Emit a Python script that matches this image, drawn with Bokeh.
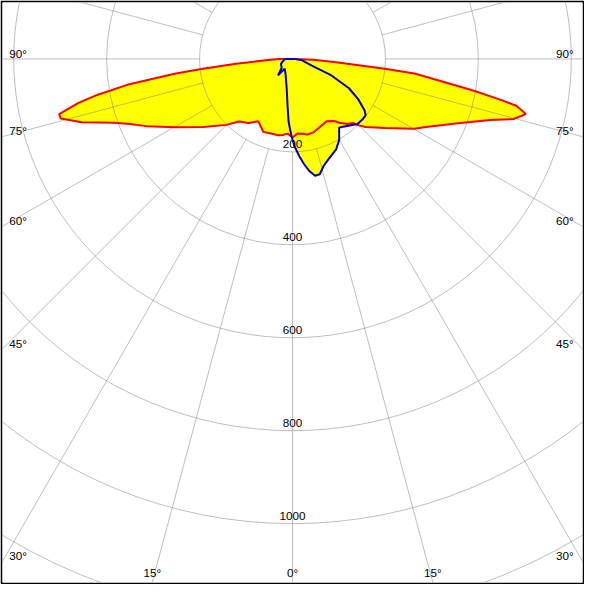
import numpy as np
from bokeh.plotting import figure
from bokeh.models import Range1d
from bokeh.embed import file_html
from bokeh.resources import INLINE
from bokeh.core.properties import value

# ---- data (angle in degrees, 0 = straight down, negative = left; intensity in cd) ----
red_angle = [-90, -87.7, -85.1, -83.8, -82.9, -81.1, -79.6, -78.4, -76.7, -75.6, -75.3,
             -73.3, -70.3, -68.2, -65.3, -59.7, -52.7, -45.1, -40.5, -34.4, -28.7,
             -21.8, -16.0, -10.8, -7.3, -3.7, 0, 3.7, 9.6, 10.9, 16.3, 25.7, 28.7,
             33.9, 36.2, 40.4, 43.3, 44.6, 47.0, 53.2, 60.2, 62.9, 68.8, 72.8, 74.8,
             76.7, 78.2, 78.9, 80.0, 81.5, 83.2, 84.0, 85.8, 87.5, 90]
red_cd = [30, 52, 122, 194, 253, 360, 426, 470, 516, 515, 509,
          474, 407, 377, 346, 291, 242, 201, 177, 167, 153,
          169, 167, 167, 165, 161, 169, 161, 164, 166, 164, 155, 153,
          161, 170, 184, 189, 200, 215, 248, 302, 322, 382, 445, 493,
          516, 492, 455, 398, 324, 264, 200, 94, 45, 5]

blue_angle = [-90, -86.4, -67.4, -50.7, -41.4, -38.7, -23.6, -11.3, -5.7, -3.5, -1.5,
              0, 1.3, 4.0, 6.3, 8.4, 10.9, 13.3, 16.2, 19.8, 25.8, 30.0, 34.1, 36.8,
              45.0, 49.3, 52.3, 54.4, 58.3, 62.6, 67.0, 70.7, 81.5, 90]
blue_cd = [20, 17, 27, 30, 47, 27, 37, 64, 105, 136, 157,
           174, 188, 210, 228, 243, 256, 255, 240, 229, 216, 201, 179, 182,
           198, 199, 199, 191, 167, 137, 91, 44, 21, 6]

ring_values = [200, 400, 600, 800, 1000, 1200]
ring_labels = ["200", "400", "600", "800", "1000"]
side_angles = [90, 75, 60, 45, 30]
bottom_angles = [-15, 0, 15]
spoke_angles = list(range(0, 360, 15))

# ---- geometry ----
PX = 0.4775           # reference pixels per cd
x_half = 298 / PX
y_top = 58 / PX
y_bot = -538 / PX
TXT_UP = 5.0 / PX     # baseline correction for text


def pol(a, r):
    a = np.radians(np.asarray(a, dtype=float))
    r = np.asarray(r, dtype=float)
    return r * np.sin(a), -r * np.cos(a)


p = figure(width=584, height=584, output_backend="svg", toolbar_location=None,
           x_range=Range1d(-x_half, x_half), y_range=Range1d(y_bot, y_top),
           x_axis_location=None, y_axis_location=None,
           min_border=2, border_fill_color="black", background_fill_color="white",
           outline_line_color=None)
p.xgrid.visible = False
p.ygrid.visible = False

rx, ry = pol(red_angle, red_cd)
bx, by = pol(blue_angle, blue_cd)

p.patch(list(rx), list(ry), fill_color="#FFFF00", line_color=None)
p.patch(list(bx), list(by), fill_color="#FFFF00", line_color=None)

# grid
grid_col = "#808080"
p.circle(x=[0] * len(ring_values), y=[0] * len(ring_values), radius=ring_values,
         fill_color=None, line_color=grid_col, line_alpha=0.5, line_width=1)
sx0, sy0 = pol(spoke_angles, [ring_values[0]] * len(spoke_angles))
sx1, sy1 = pol(spoke_angles, [4000] * len(spoke_angles))
p.segment(x0=list(sx0), y0=list(sy0), x1=list(sx1), y1=list(sy1),
          line_color=grid_col, line_alpha=0.5, line_width=1)

# curves
p.line(list(rx) + [rx[0]], list(ry) + [ry[0]], line_color="#FF0000", line_width=2)
p.line(list(bx) + [bx[0]], list(by) + [by[0]], line_color="#0000C8", line_width=2)

font = value("Liberation Sans")
fs = "11.7px"

# ring labels
lab_r = [int(s) for s in ring_labels]
p.text(x=[0] * len(lab_r), y=[-r + 3 / PX + TXT_UP for r in lab_r], text=ring_labels,
       text_font=font, text_font_size=fs, text_color="black",
       text_align="center", text_baseline="alphabetic")

# side angle labels
left_y = [-x_half / np.tan(np.radians(a)) + 1 / PX + TXT_UP for a in side_angles]
txt = [f"{a}°" for a in side_angles]
p.text(x=[-x_half + 7 / PX] * len(side_angles), y=left_y, text=txt,
       text_font=font, text_font_size=fs, text_color="black",
       text_align="left", text_baseline="alphabetic")
p.text(x=[x_half - 9 / PX] * len(side_angles), y=left_y, text=txt,
       text_font=font, text_font_size=fs, text_color="black",
       text_align="right", text_baseline="alphabetic")

# bottom angle labels
bx_lab = [-y_bot * np.tan(np.radians(a)) for a in bottom_angles]
p.text(x=bx_lab, y=[y_bot + 5 / PX + TXT_UP] * len(bottom_angles),
       text=[f"{abs(a)}°" for a in bottom_angles],
       text_font=font, text_font_size=fs, text_color="black",
       text_align="center", text_baseline="alphabetic")

open("out.html", "w").write(file_html(p, INLINE))
